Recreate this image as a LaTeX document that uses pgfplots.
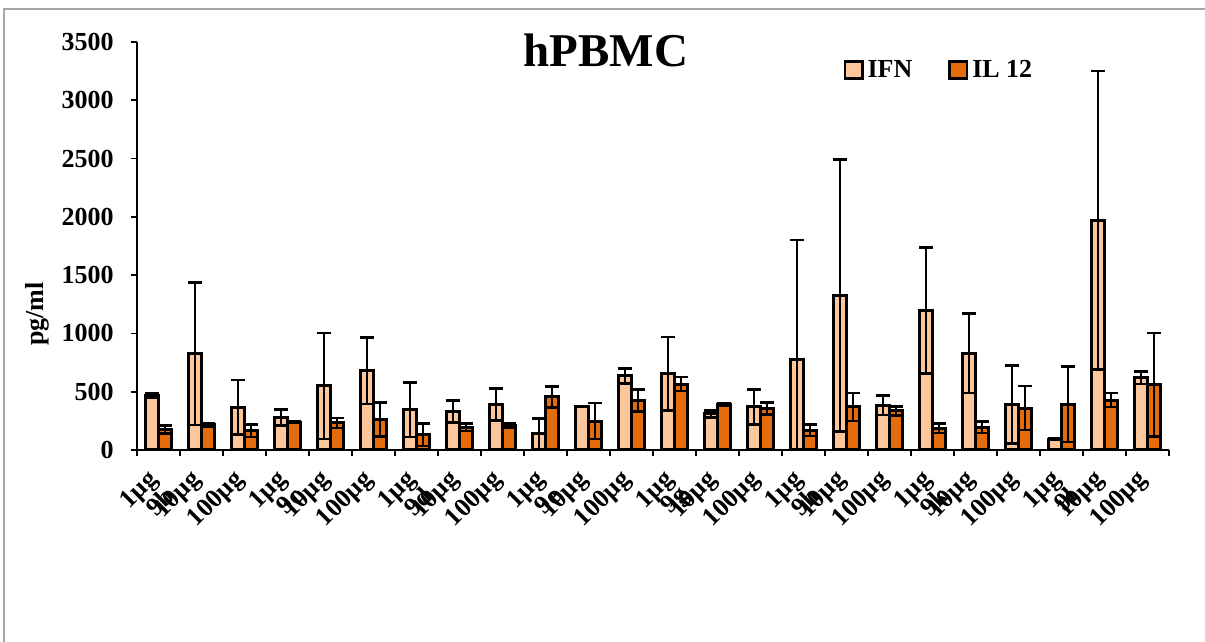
\documentclass[border=0pt]{standalone}
\usepackage{pgfplots}
\pgfplotsset{compat=1.18}
\usepackage{pgfplotstable}
\usepackage{fontspec}
\setmainfont{Liberation Serif}

\definecolor{ifn}{RGB}{252,200,155}
\definecolor{iltw}{RGB}{228,108,10}

% cat  IFN  err  IL12  err
\pgfplotstableread{
x  ifn  ifne  il   ile
0  470  20    175  35
1  825  610   215  12
2  368  233   165  55
3  280  68    240  5
4  550  455   232  42
5  680  285   262  148
6  345  235   130  95
7  330  95    195  32
8  388  137   210  15
9  140  130   455  88
10 375  3     248  155
11 635  65    425  95
12 655  315   565  60
13 310  30    390  10
14 370  150   355  50
15 775  1025  170  50
16 1325 1165  370  120
17 385  85    335  38
18 1195 540   185  40
19 830  340   195  50
20 390  335   360  190
21 93   5     392  325
22 1970 1280  428  60
23 620  55    560  445
}\cyto

\begin{document}
\begin{tikzpicture}[x=1pt,y=1pt]
\useasboundingbox (0,0) rectangle (602.5,321);
\draw[black!35, line width=1pt] (2,0) -- (2,316.5) -- (602.5,316.5);
\begin{axis}[
  at={(68.5pt,96pt)}, anchor=south west,
  scale only axis, width=516pt, height=204pt,
  xmin=-0.5, xmax=23.5, ymin=0, ymax=3500,
  axis x line*=bottom, axis y line*=left,
  clip mode=individual,
  ybar=0pt, bar width=6.4pt,
  xtick={0,...,23},
  xticklabels={1µg,10µg,100µg,1µg,10µg,100µg,1µg,10µg,100µg,1µg,10µg,100µg,
               1µg,10µg,100µg,1µg,10µg,100µg,1µg,10µg,100µg,1µg,10µg,100µg},
  minor xtick={-0.5,0.5,...,23.5},
  ytick={0,500,...,3500}, minor ytick={0,500,...,3500},
  major tick length=0pt, minor tick length=3pt, tick align=outside,
  tick style={black, line width=0.8pt},
  axis line style={black, line width=0.8pt},
  ticklabel style={font=\bfseries\fontsize{13}{15}\selectfont},
  /pgf/number format/assume math mode=true,
  scaled y ticks=false,
  yticklabel style={/pgf/number format/1000 sep={}, anchor=east, inner sep=0pt, xshift=-11.5pt},
  xticklabel style={yshift=-13pt, xshift=-2pt, rotate=45, anchor=east, inner sep=0pt},
  legend style={at={(0.778,0.931)}, anchor=center, draw=none, fill=none,
    legend columns=2, font=\bfseries\fontsize{13}{15}\selectfont,
    /tikz/every even column/.append style={column sep=16pt}},
  legend image code/.code={\draw[#1, line width=1.4pt] (0pt,-4.3pt) rectangle (8.6pt,4.3pt);},
  every axis plot/.append style={draw=black, line width=1.5pt,
    error bars/y dir=both, error bars/y explicit,
    error bars/error bar style={black, line width=1pt},
    error bars/error mark options={black, line width=1.3pt, mark size=3.5pt, rotate=90}},
]
\addplot[fill=ifn] table[x=x, y=ifn, y error=ifne] {\cyto};
\addlegendentry{IFN}
\addplot[fill=iltw] table[x=x, y=il, y error=ile] {\cyto};
\addlegendentry{IL 12}

% group names sit one line below the 1µg label of each group
\foreach \g [count=\i from 0] in {9b,9c,9d,9e,9g,9h,9k,9l} {
  \edef\tmp{\noexpand\node[font=\noexpand\bfseries\noexpand\fontsize{13}{15}\noexpand\selectfont,
    yshift=-21pt, xshift=5.5pt, rotate=45, anchor=east, inner sep=0pt]
    at (axis cs:\the\numexpr3*\i\relax,0) {\g};}
  \tmp
}
\end{axis}
\node[font=\bfseries\fontsize{23.5}{27}\selectfont] at (303,296) {hPBMC};
\node[rotate=90, font=\bfseries\fontsize{13}{15}\selectfont] at (18.75,164) {pg/ml};
\end{tikzpicture}
\end{document}
